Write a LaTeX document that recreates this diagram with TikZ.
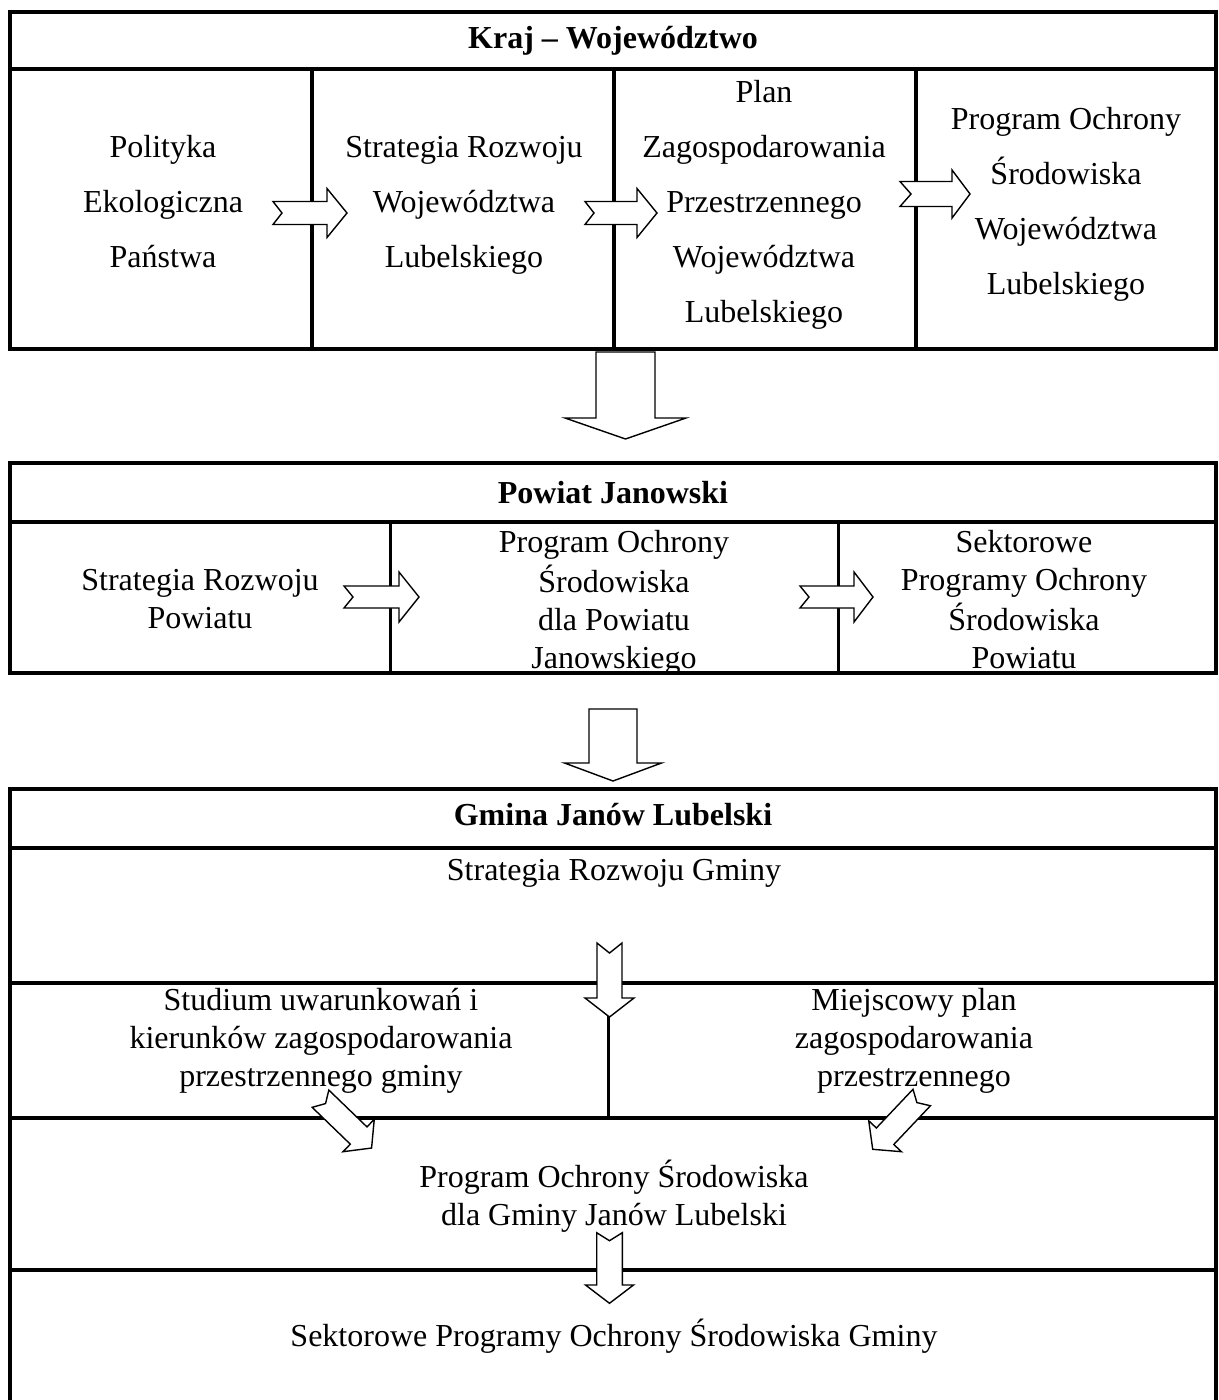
\documentclass[tikz,border=0pt]{standalone}
\usepackage{fontspec}
\setmainfont{Liberation Serif}
\newcommand{\blockarrow}[7]{%
  \filldraw[barrow, shift={#1}, rotate=#2] (0,#5) -- ({#3-#4},#5) -- ({#3-#4},#6) -- (#3,0)
     -- ({#3-#4},-#6) -- ({#3-#4},-#5) -- (0,-#5) -- (#7,0) -- cycle;}
\begin{document}
\begin{tikzpicture}[x=1pt,y=-1pt,
  frame/.style={line width=4pt},
  divider/.style={line width=3pt},
  barrow/.style={draw=black, fill=white, line width=1.4pt, line join=miter},
  big/.style={font=\fontsize{32}{55}\selectfont, align=center, inner sep=0pt},
  small/.style={font=\fontsize{32}{38}\selectfont, align=center, inner sep=0pt},
  head/.style={font=\bfseries\fontsize{32}{55}\selectfont, inner sep=0pt}]
\useasboundingbox (0,0) rectangle (1218,1400);
\fill[white] (0,0) rectangle (1218,1400);

% ---------- Section 1 ----------
\draw[frame] (10,11.5) rectangle (1216,349);
\draw[frame] (10,69) -- (1216,69);
\draw[frame] (312,69) -- (312,349);
\draw[frame] (614,69) -- (614,349);
\draw[frame] (916,69) -- (916,349);

\node[head] (kraj) at (613,37) {\strut Kraj – Województwo};
\node[big] (pol) at (163,201) {\strut Polityka\\\strut Ekologiczna\\\strut Państwa};
\node[big] (srw) at (464,201) {\strut Strategia Rozwoju\\\strut Województwa\\\strut Lubelskiego};
\node[big] (pzp) at (764,201) {\strut Plan\\\strut Zagospodarowania\\\strut Przestrzennego\\\strut Województwa\\\strut Lubelskiego};
\node[big] (pos) at (1066,201) {\strut Program Ochrony\\\strut Środowiska\\\strut Województwa\\\strut Lubelskiego};

\blockarrow{(273,213)}{0}{74}{20}{11.5}{24.5}{9}
\blockarrow{(585,213)}{0}{72}{20}{11.5}{24.5}{9}
\blockarrow{(900,194)}{0}{70}{18}{12.5}{24}{11}

% down arrow 1 -> 2
\blockarrow{(625.5,352)}{-90}{87}{21}{29.5}{60.5}{0}

% ---------- Section 2 ----------
\draw[frame] (10,463) rectangle (1216,673);
\draw[frame] (10,522) -- (1216,522);
\draw[divider] (390,522) -- (390,673);
\draw[divider] (838,522) -- (838,673);

\node[head] (pow) at (613,492) {\strut Powiat Janowski};
\node[small] (srp) at (200,602) {\strut Strategia Rozwoju\\\strut Powiatu};
\node[small] (posp) at (614,603) {\strut Program Ochrony\\\strut Środowiska\\\strut dla Powiatu\\\strut Janowskiego};
\node[small] (spo) at (1024,603) {\strut Sektorowe\\\strut Programy Ochrony\\\strut Środowiska\\\strut Powiatu};

\blockarrow{(344,597)}{0}{75}{20}{11}{25}{9}
\blockarrow{(800,597)}{0}{73}{19}{11}{25}{9}

% down arrow 2 -> 3
\blockarrow{(613,709)}{-90}{72}{18}{24}{48.5}{0}

% ---------- Section 3 ----------
\draw[frame] (10,1410) -- (10,789) -- (1216,789) -- (1216,1410);
\draw[frame] (10,848) -- (1216,848);
\draw[frame] (10,983) -- (1216,983);
\draw[frame] (10,1118) -- (1216,1118);
\draw[frame] (10,1270) -- (1216,1270);
\draw[divider] (608,983) -- (608,1118);

\node[head] (gmina) at (613,814) {\strut Gmina Janów Lubelski};
\node[small] (srg) at (614,873) {\strut Strategia Rozwoju Gminy};
\node[small] (stud) at (321,1041) {\strut Studium uwarunkowań i\\\strut kierunków zagospodarowania\\\strut przestrzennego gminy};
\node[small] (mpzp) at (914,1041) {\strut Miejscowy plan\\\strut zagospodarowania\\\strut przestrzennego};
\node[small] (posg) at (614,1198) {\strut Program Ochrony Środowiska\\\strut dla Gminy Janów Lubelski};
\node[small] (spog) at (614,1338) {\strut Sektorowe Programy Ochrony Środowiska Gminy};

\blockarrow{(609.5,943)}{-90}{74}{19}{12.5}{24.5}{10}
\blockarrow{(320.5,1098.7)}{-44}{71}{18}{12}{22.5}{7}
\blockarrow{(921.7,1097.5)}{-133.4}{71.3}{18}{12}{22.5}{7}
\blockarrow{(609.5,1232.7)}{-90}{70.6}{18.3}{12.8}{24}{8}
\end{tikzpicture}
\end{document}
